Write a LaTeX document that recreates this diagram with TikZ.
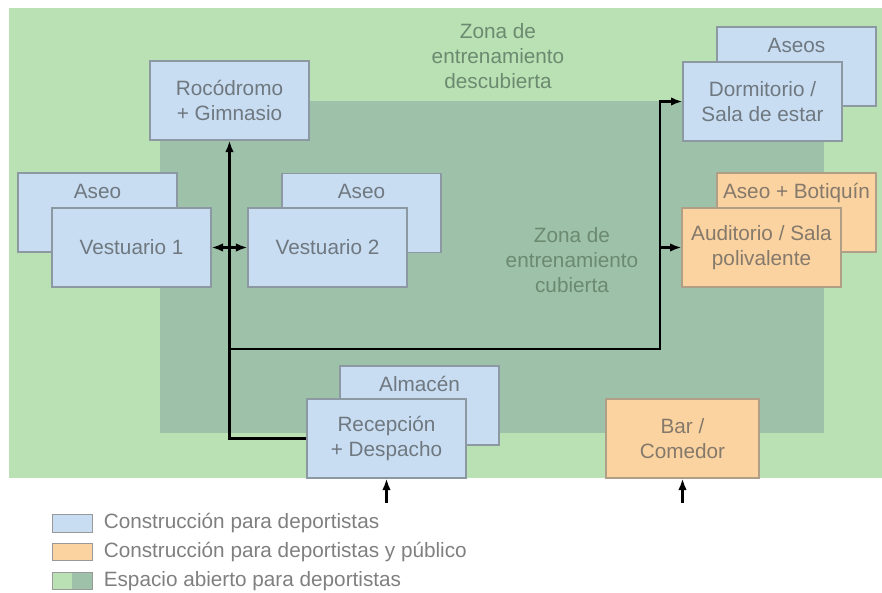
\documentclass[tikz,border=0pt]{standalone}
\usepackage{fontspec}
\setmainfont{Liberation Sans}
\usepackage{tikz}
\usetikzlibrary{arrows.meta,positioning}
\definecolor{openL}{HTML}{BAE1B4}
\definecolor{openD}{HTML}{9EC1AA}
\definecolor{cSport}{HTML}{C8DDF1}
\definecolor{cPublic}{HTML}{FBD3A1}
\definecolor{edge}{HTML}{8C99A3}
\definecolor{edgeO}{HTML}{B09E86}
\definecolor{ink}{HTML}{6F7880}
\definecolor{inkO}{HTML}{85796B}
\definecolor{zoneink}{HTML}{6C8A70}
\definecolor{keyink}{HTML}{7F7F7F}
\newcommand{\boxfont}{\fontsize{11.8}{14.2}\selectfont}
\tikzset{
  room/.style={draw=edge,line width=0.6pt,fill=cSport,text=ink,align=center,
    minimum width=3.18cm,minimum height=1.58cm,inner sep=0pt,font=\boxfont},
  roomO/.style={room,draw=edgeO,fill=cPublic,text=inkO},
  backlbl/.style={anchor=north,inner sep=0pt,yshift=-6pt,text height=8.5pt,
    text depth=2.5pt,font=\boxfont,text=ink},
  zone/.style={align=center,text=zoneink,font=\boxfont},
  link/.style={line width=1.3pt,-{Latex[length=2.3mm,width=1.7mm]}},
  key/.style={draw=keyink!80,line width=0.5pt,minimum width=0.8cm,minimum height=0.35cm,inner sep=0pt},
  keytxt/.style={text=keyink,font=\boxfont,inner sep=0pt}
}

\begin{document}
\begin{tikzpicture}[x=0.02cm,y=-0.02cm]
  \useasboundingbox (0,0) rectangle (882,592);
  % open space
  \fill[openL] (9,8) rectangle (882,478);
  \fill[openD] (160,101) rectangle (824,433);
  \node[zone] (outdoor) at (498,56) {Zona de\\entrenamiento\\descubierta};
  \node[zone] (indoor) at (572,260) {Zona de\\entrenamiento\\cubierta};

  % rooms
  \node[room] (roco) at (229.5,100.5) {Rocódromo\\+ Gimnasio};
  \node[room,label={[backlbl]north:Aseo}] (aseoA) at (97.5,212.5) {};
  \node[room] (vest1) at (131.5,247.5) {Vestuario 1};
  \node[room,label={[backlbl]north:Aseo}] (aseoB) at (361.5,213) {};
  \node[room] (vest2) at (327.5,247.5) {Vestuario 2};
  \node[room,label={[backlbl]north:Aseos}] (aseos) at (796.5,66.5) {};
  \node[room] (dorm) at (762.5,101.5) {Dormitorio /\\Sala de estar};
  \node[roomO,label={[backlbl,text=inkO]north:Aseo + Botiquín}] (botiq) at (796.5,212.5) {};
  \node[roomO] (audit) at (761.5,247.5) {Auditorio / Sala\\polivalente};
  \node[room,label={[backlbl]north:Almacén}] (almacen) at (419.5,405.5) {};
  \node[room] (recep) at (386.5,438.5) {Recepción\\+ Despacho};
  \node[roomO,minimum width=3.06cm] (bar) at (682.5,438.5) {Bar /\\Comedor};

  % corridors
  \coordinate (foot) at (roco.south |- recep.west);
  \coordinate (spineL) at (roco.south |- 0,349);
  \coordinate (spineR) at (660,349);
  \draw[link] (recep.west) -- (foot) -- (roco.south);
  \draw[link] (spineL) -- (spineR) |- (dorm.west);
  \draw[link] (spineR |- audit.west) -- (audit.west);
  \draw[link] (roco.south |- vest1.east) -- (vest1.east);
  \draw[link] (roco.south |- vest2.west) -- (vest2.west);
  % entrances
  \coordinate (doorR) at ([yshift=-0.48cm]recep.south);
  \coordinate (doorB) at ([yshift=-0.48cm]bar.south);
  \draw[link] (doorR) -- (recep.south);
  \draw[link] (doorB) -- (bar.south);

  % legend
  \node[key,fill=cSport] (keyS) at (72,523.5) {};
  \node[keytxt,right=0.22cm of keyS] (keySt) {Construcción para deportistas};
  \node[key,fill=cPublic] (keyP) at (72,552) {};
  \node[keytxt,right=0.22cm of keyP] (keyPt) {Construcción para deportistas y público};
  \node[key,fill=openL,path picture={\fill[openD] (path picture bounding box.north)
    rectangle (path picture bounding box.south east);}] (keyO) at (72,581) {};
  \node[keytxt,right=0.22cm of keyO] (keyOt) {Espacio abierto para deportistas};
\end{tikzpicture}
\end{document}
